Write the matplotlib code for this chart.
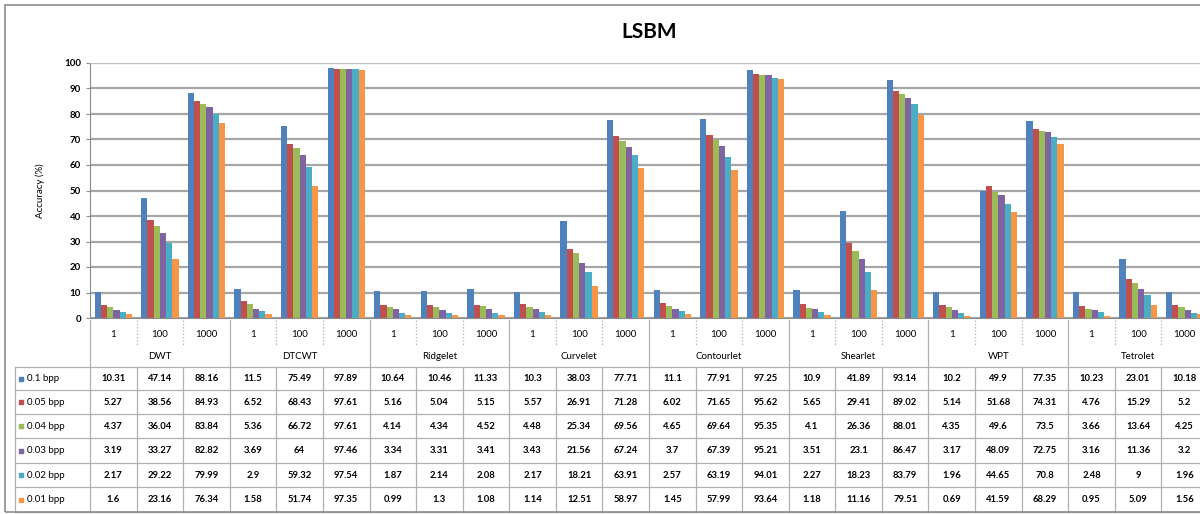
import numpy as np
import matplotlib
matplotlib.use('Agg')
import matplotlib.pyplot as plt

plt.rcParams['font.family'] = ['Lato', 'DejaVu Sans']

methods = ['DWT', 'DTCWT', 'Ridgelet', 'Curvelet', 'Contourlet', 'Shearlet', 'WPT', 'Tetrolet']
levels = ['1', '100', '1000']
series = ['0.1 bpp', '0.05 bpp', '0.04 bpp', '0.03 bpp', '0.02 bpp', '0.01 bpp']
colors = ['#4F81BD', '#C0504D', '#9BBB59', '#8064A2', '#4BACC6', '#F79646']

bpp_01 = [10.31, 47.14, 88.16, 11.5, 75.49, 97.89, 10.64, 10.46, 11.33, 10.3, 38.03, 77.71,
          11.1, 77.91, 97.25, 10.9, 41.89, 93.14, 10.2, 49.9, 77.35, 10.23, 23.01, 10.18]
bpp_005 = [5.27, 38.56, 84.93, 6.52, 68.43, 97.61, 5.16, 5.04, 5.15, 5.57, 26.91, 71.28,
           6.02, 71.65, 95.62, 5.65, 29.41, 89.02, 5.14, 51.68, 74.31, 4.76, 15.29, 5.2]
bpp_004 = [4.37, 36.04, 83.84, 5.36, 66.72, 97.61, 4.14, 4.34, 4.52, 4.48, 25.34, 69.56,
           4.65, 69.64, 95.35, 4.1, 26.36, 88.01, 4.35, 49.6, 73.5, 3.66, 13.64, 4.25]
bpp_003 = [3.19, 33.27, 82.82, 3.69, 64, 97.46, 3.34, 3.31, 3.41, 3.43, 21.56, 67.24,
           3.7, 67.39, 95.21, 3.51, 23.1, 86.47, 3.17, 48.09, 72.75, 3.16, 11.36, 3.2]
bpp_002 = [2.17, 29.22, 79.99, 2.9, 59.32, 97.54, 1.87, 2.14, 2.08, 2.17, 18.21, 63.91,
           2.57, 63.19, 94.01, 2.27, 18.23, 83.79, 1.96, 44.65, 70.8, 2.48, 9, 1.96]
bpp_001 = [1.6, 23.16, 76.34, 1.58, 51.74, 97.35, 0.99, 1.3, 1.08, 1.14, 12.51, 58.97,
           1.45, 57.99, 93.64, 1.18, 11.16, 79.51, 0.69, 41.59, 68.29, 0.95, 5.09, 1.56]
values = [bpp_01, bpp_005, bpp_004, bpp_003, bpp_002, bpp_001]

W, H = 1200, 514
fig = plt.figure(figsize=(W / 100, H / 100), dpi=100)
fig.patch.set_facecolor('white')

# outer chart border
fig.add_artist(plt.Rectangle((5 / W, 2 / H), 1.2, (H - 7) / H, transform=fig.transFigure,
                             fill=False, edgecolor='#8c8c8c', lw=1.2))

x0, x1 = 90, 1208
ytop, ybot = 63, 318
ax = fig.add_axes([x0 / W, (H - ybot) / H, (x1 - x0) / W, (ybot - ytop) / H])
ncol = len(methods) * len(levels)
x = np.arange(ncol)
bw = 0.8 / len(series)
for i, (vals, c) in enumerate(zip(values, colors)):
    ax.bar(x - 0.4 + bw * (i + 0.5), vals, width=bw, color=c, edgecolor='none', zorder=3)

ax.set_xlim(-0.5, ncol - 0.5)
ax.set_ylim(0, 100)
ax.set_yticks(range(0, 101, 10))
ax.set_xticks([])
ax.grid(axis='y', color='#a6a6a6', lw=1.6, zorder=0)
for s in ['top', 'right']:
    ax.spines[s].set_color('#bfbfbf')
ax.spines['left'].set_color('#8c8c8c')
ax.spines['bottom'].set_color('#8c8c8c')
ax.tick_params(axis='y', labelsize=7, length=3, color='#8c8c8c')
for t in ax.get_yticklabels():
    t.set_fontweight('bold')
ax.set_ylabel('Accuracy (%)', fontsize=7, labelpad=14)
ax.set_title('LSBM', fontsize=15, fontweight='bold', pad=18)

# data table under the chart
tab = fig.add_axes([x0 / W, 0, (x1 - x0) / W, (H - ybot) / H])
tab.set_xlim(-0.5, ncol - 0.5)
tab.set_ylim(H, ybot)
tab.axis('off')
lc = '#b0b0b0'
rows = [367, 390, 414, 438, 463, 487, 512]
xl = -0.5 - (x0 - 15) / ((x1 - x0) / ncol)

for y in rows:
    tab.plot([xl, ncol - 0.5], [y, y], color=lc, lw=0.9, clip_on=False)
tab.plot([xl, xl], [rows[0], rows[-1]], color=lc, lw=0.9, clip_on=False)
for k in range(ncol + 1):
    xb = k - 0.5
    if k % 3 == 0:
        tab.plot([xb, xb], [ybot + 2, rows[-1]], color=lc, lw=0.9, clip_on=False)
    else:
        tab.plot([xb, xb], [ybot + 2, 345], color=lc, lw=0.9, ls=':', clip_on=False)
        tab.plot([xb, xb], [rows[0], rows[-1]], color=lc, lw=0.9, clip_on=False)

for k in range(ncol):
    tab.text(k, 334, levels[k % 3], ha='center', va='center', fontsize=7, clip_on=False)
for m, name in enumerate(methods):
    tab.text(3 * m + 1, 356, name, ha='center', va='center', fontsize=7, clip_on=False)

for r, (name, vals, c) in enumerate(zip(series, values, colors)):
    yc = (rows[r] + rows[r + 1]) / 2
    tab.scatter([xl + 0.13], [yc], marker='s', s=9, color=c, clip_on=False)
    tab.text(xl + 0.25, yc, name, ha='left', va='center', fontsize=7, clip_on=False)
    for k, v in enumerate(vals):
        tab.text(k, yc, '{:g}'.format(v), ha='center', va='center', fontsize=6.8,
                 fontweight='bold', clip_on=False)

fig.savefig('out.png', dpi=100)
